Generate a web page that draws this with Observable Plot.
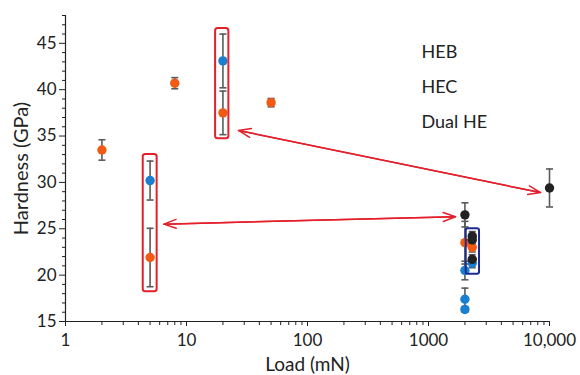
<!DOCTYPE html>
<html>
<head>
<meta charset="utf-8">
<script src="https://cdn.jsdelivr.net/npm/d3@7"></script>
<script src="https://cdn.jsdelivr.net/npm/@observablehq/plot@0.6"></script>
<style>
  html, body { margin: 0; padding: 0; background: #fff; }
  #chart { width: 580px; height: 375px; }
</style>
</head>
<body>
<div id="chart"></div>
<script>
// ---- Data ----
const seriesNames = ["HEB", "HEC", "Dual HE"];
const seriesColors = ["#1b7fd0", "#f05a12", "#222222"];

const HEB_load = [5, 20, 2000, 2000, 2000, 2300];
const HEB_hard = [30.2, 43.1, 20.5, 17.4, 16.3, 21.3];
const HEB_err  = [2.1, 2.9, 1.0, 1.2, 0.3, 0.5];

const HEC_load = [2, 5, 8, 20, 50, 2000, 2300];
const HEC_hard = [33.5, 21.9, 40.7, 37.5, 38.6, 23.5, 23.0];
const HEC_err  = [1.1, 3.15, 0.6, 2.35, 0.45, 2.3, 0.5];

const DUAL_load = [10000, 2000, 2300, 2300, 2300];
const DUAL_hard = [29.4, 26.5, 24.2, 23.8, 21.7];
const DUAL_err  = [2.05, 1.3, 0.5, 0.5, 0.5];

const xMajorTicks = [1, 10, 100, 1000, 10000];
const xTickLabels = ["1", "10", "100", "1000", "10,000"];
const yMajorTicks = [15, 20, 25, 30, 35, 40, 45];

// annotations (data coordinates)
const redBoxes = [
  {x1: 4.39, x2: 5.72, y1: 18.2, y2: 33.0},
  {x1: 17.4, x2: 22.4, y1: 34.7, y2: 46.6}
];
const blueBoxes = [
  {x1: 2050, x2: 2640, y1: 20.1, y2: 25.0}
];
const arrows = [
  {xa: 26.9, ya: 35.6, xb: 8430, yb: 28.9},
  {xa: 6.5, ya: 25.5, xb: 1671, yb: 26.3}
];

// ---- Build table ----
function build(name, L, H, E) {
  return L.map((x, i) => ({series: name, load: x, hard: H[i], err: E[i]}));
}
const rows = [
  ...build("HEB", HEB_load, HEB_hard, HEB_err),
  ...build("HEC", HEC_load, HEC_hard, HEC_err),
  ...build("Dual HE", DUAL_load, DUAL_hard, DUAL_err)
];

const xMinorTicks = [];
for (const dec of [1, 10, 100, 1000]) for (let k = 2; k <= 9; k++) xMinorTicks.push(dec * k);
const yMinorTicks = d3.range(15, 49, 1).filter(v => v % 5 !== 0);

const capSymbol = {
  draw(ctx, size) {
    const w = Math.sqrt(size / Math.PI);
    ctx.moveTo(-w, 0);
    ctx.lineTo(w, 0);
  }
};

const ebColor = "#5a5a5a";
const red = "#e3202b";
const font = "Lato, 'Open Sans', sans-serif";

const plot = Plot.plot({
  width: 580,
  height: 375,
  marginLeft: 65,
  marginRight: 31,
  marginTop: 15,
  marginBottom: 54,
  style: {fontFamily: font, color: "#222", background: "#fff", overflow: "visible"},
  x: {type: "log", domain: [1, 10000], label: null},
  y: {domain: [15, 48], label: null},
  color: {domain: seriesNames, range: seriesColors},
  marks: [
    // axes
    Plot.axisX(xMinorTicks, {tickSize: 4, tickFormat: () => "", stroke: "#222"}),
    Plot.axisX(xMajorTicks, {
      tickSize: 5, tickPadding: 7, fontSize: 17, stroke: "#222", fill: "#222",
      tickFormat: d => xTickLabels[xMajorTicks.indexOf(d)]
    }),
    Plot.axisY(yMinorTicks, {tickSize: 3, tickFormat: () => "", stroke: "#222"}),
    Plot.axisY(yMajorTicks, {tickSize: 6, tickPadding: 3, fontSize: 17, stroke: "#222", fill: "#222"}),
    Plot.ruleX([1], {y1: 15, y2: 48, stroke: "#222", strokeWidth: 1.2}),
    Plot.ruleY([15], {stroke: "#222", strokeWidth: 1.2}),
    // axis titles
    Plot.text(["Load (mN)"], {frameAnchor: "bottom", lineAnchor: "middle", dy: 43, fontSize: 19, fill: "#222"}),
    Plot.text(["Hardness (GPa)"], {frameAnchor: "left", textAnchor: "middle", lineAnchor: "middle", dx: -44, dy: 0, rotate: -90, fontSize: 20, fill: "#222"}),
    // legend labels
    Plot.text(["HEB"], {frameAnchor: "top-left", lineAnchor: "middle", dx: 356, dy: 37, textAnchor: "start", fontSize: 18, fill: "#222"}),
    Plot.text(["HEC"], {frameAnchor: "top-left", lineAnchor: "middle", dx: 356, dy: 72, textAnchor: "start", fontSize: 18, fill: "#222"}),
    Plot.text(["Dual HE"], {frameAnchor: "top-left", lineAnchor: "middle", dx: 356, dy: 107, textAnchor: "start", fontSize: 18, fill: "#222"}),
    // error bars
    Plot.ruleX(rows, {x: "load", y1: d => d.hard - d.err, y2: d => d.hard + d.err, stroke: ebColor, strokeWidth: 1.6}),
    Plot.dot(rows, {x: "load", y: d => d.hard + d.err, symbol: capSymbol, r: 3.5, stroke: ebColor, fill: "none", strokeWidth: 1.6}),
    Plot.dot(rows, {x: "load", y: d => d.hard - d.err, symbol: capSymbol, r: 3.5, stroke: ebColor, fill: "none", strokeWidth: 1.6}),
    // points
    Plot.dot(rows, {x: "load", y: "hard", fill: "series", r: 4.7}),
    // annotation boxes
    Plot.rect(redBoxes, {x1: "x1", x2: "x2", y1: "y1", y2: "y2", fill: "none", stroke: red, strokeWidth: 2, rx: 2.5}),
    Plot.rect(blueBoxes, {x1: "x1", x2: "x2", y1: "y1", y2: "y2", fill: "none", stroke: "#1d2a8f", strokeWidth: 2, rx: 2}),
    // double-headed arrows
    Plot.arrow(arrows, {x1: "xa", y1: "ya", x2: "xb", y2: "yb", stroke: red, strokeWidth: 1.5, headLength: 13, headAngle: 40}),
    Plot.arrow(arrows, {x1: "xb", y1: "yb", x2: "xa", y2: "ya", stroke: red, strokeWidth: 1.5, headLength: 13, headAngle: 40})
  ]
});

document.getElementById("chart").appendChild(plot);
</script>
</body>
</html>
